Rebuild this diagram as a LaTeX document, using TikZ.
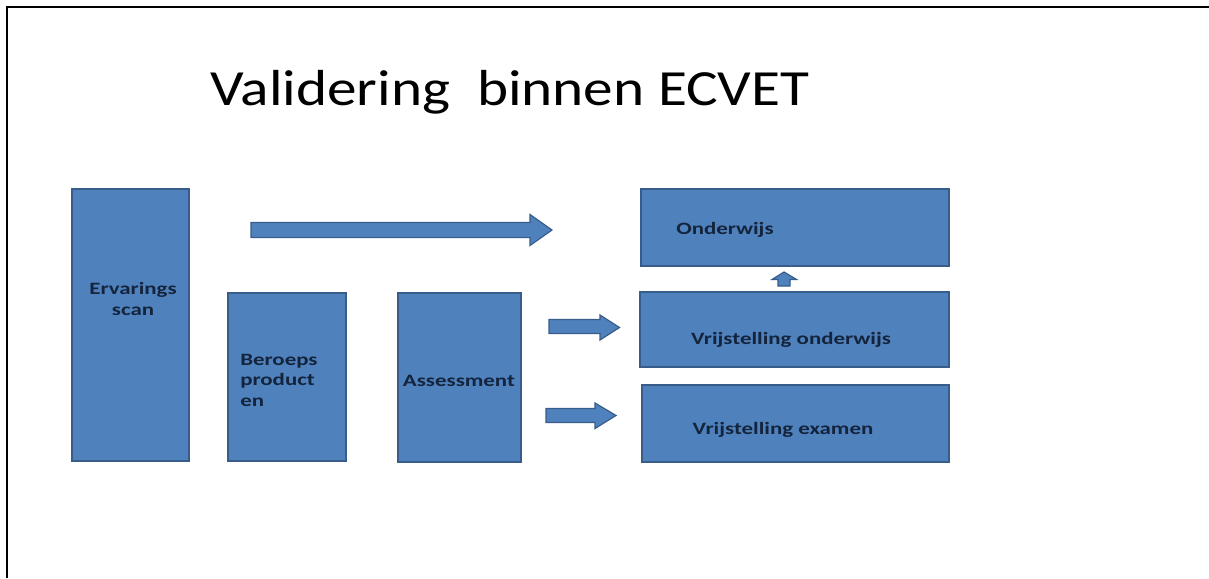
\documentclass[tikz,border=0pt]{standalone}
\usepackage{fontspec}
\setmainfont{Carlito}
\usepackage{graphicx}
\usetikzlibrary{fit}
\definecolor{boxfill}{HTML}{4F81BD}
\definecolor{boxline}{HTML}{385D8A}
\definecolor{txt}{HTML}{14243C}
\newcommand{\widetxt}[1]{\scalebox{1.32}[1]{#1}}
\newcommand{\widetitle}[1]{\scalebox{1.17}[1]{#1}}
\begin{document}
\begin{tikzpicture}[x=0.75pt,y=-0.75pt,
  blk/.style={fill=boxfill,draw=boxline,line width=0.9pt,inner sep=0pt},
  lbl/.style={text=txt,font=\bfseries\fontsize{13}{15}\selectfont,inner sep=0pt},
  blockarrow/.style={fill=boxfill,draw=boxline,line width=0.9pt,line join=miter}]
\useasboundingbox (0,0) rectangle (1209,578);
\fill[white] (0,0) rectangle (1209,578);
\draw[line width=1.6pt] (7,578) -- (7,7) -- (1209,7);

% title
\node[anchor=base,inner sep=0pt,font=\fontsize{38}{44}\selectfont,text=black] (title) at (510,105) {\widetitle{Validering\ \ binnen ECVET}};

% boxes
\node[blk,fit={(72,189) (189,461)}] (ervar) {};
\node[blk,fit={(228,293) (346,461)}] (beroeps) {};
\node[blk,fit={(398,293) (521,462)}] (assess) {};
\node[blk,fit={(641,189) (949,266)}] (onderw) {};
\node[blk,fit={(640,292) (949,367)}] (vrijo) {};
\node[blk,fit={(642,385) (949,462)}] (vrije) {};

% labels
\node[lbl] (l1a) at (133,290) {\widetxt{Ervarings}};
\node[lbl] (l1b) at (133,311) {\widetxt{scan}};
\node[lbl,anchor=west] (l2a) at (240,361) {\widetxt{Beroeps}};
\node[lbl,anchor=west] (l2b) at (240,381) {\widetxt{product}};
\node[lbl,anchor=west] (l2c) at (240,402) {\widetxt{en}};
\node[lbl] (l3) at (459,381) {\widetxt{Assessment}};
\node[lbl] (l4) at (725,230) {\widetxt{Onderwijs}};
\node[lbl] (l5) at (791,340) {\widetxt{Vrijstelling onderwijs}};
\node[lbl] (l6) at (783,430) {\widetxt{Vrijstelling examen}};

% block arrows
\draw[blockarrow] (251,222.5) -- (530,222.5) -- (530,214.5) -- (552,230) -- (530,245.5) -- (530,237.5) -- (251,237.5) -- cycle;
\draw[blockarrow] (549,319.5) -- (600,319.5) -- (600,315) -- (619.5,327.5) -- (600,340) -- (600,333.5) -- (549,333.5) -- cycle;
\draw[blockarrow] (546,408.5) -- (595,408.5) -- (595,403) -- (616,415.5) -- (595,428.5) -- (595,422.5) -- (546,422.5) -- cycle;
\draw[blockarrow] (778,286) -- (778,279.5) -- (772,279.5) -- (784,272) -- (796.5,279.5) -- (790,279.5) -- (790,286) -- cycle;
\end{tikzpicture}
\end{document}
